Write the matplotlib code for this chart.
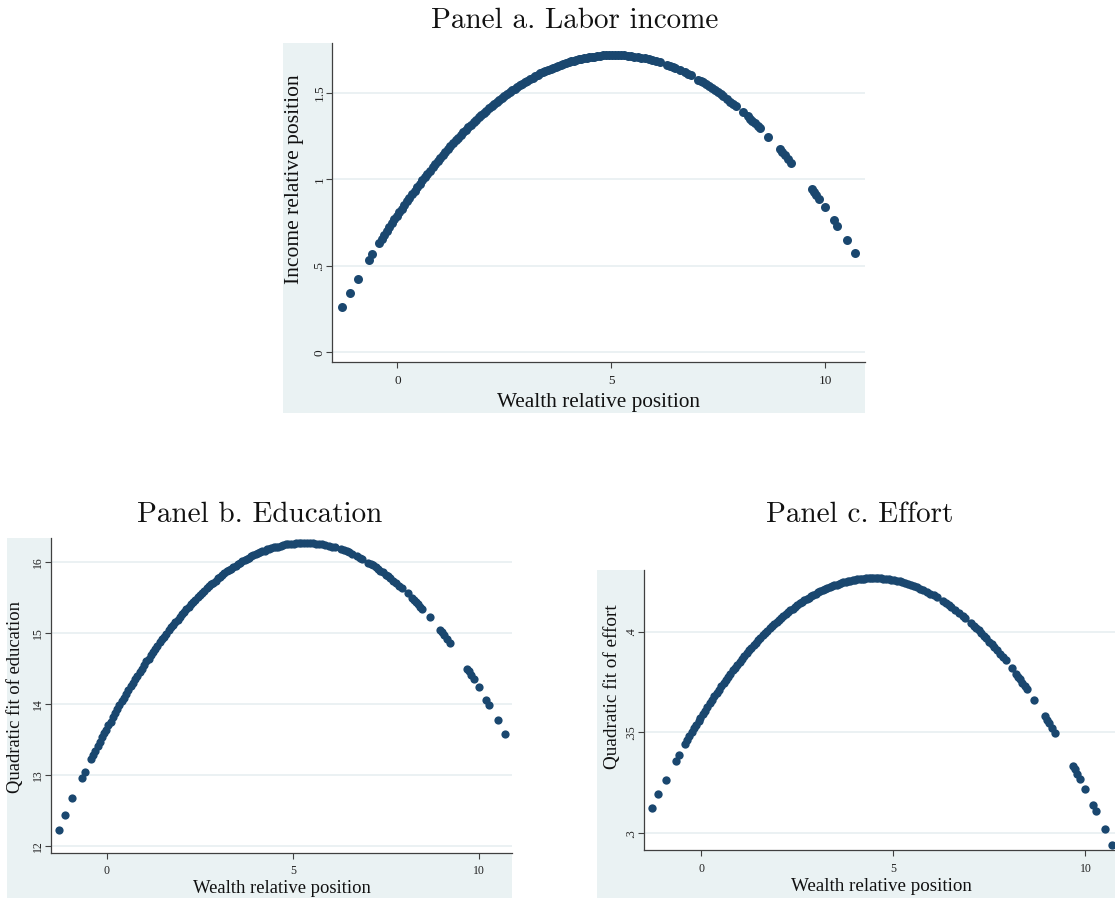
import matplotlib
matplotlib.use("Agg")
import matplotlib.pyplot as plt
from matplotlib.patches import Rectangle

# Wealth relative position of each observation
wealth = [
    -1.29, -1.12, -0.925, -0.67, -0.59,
    -0.43, -0.37, -0.31, -0.25, -0.19, -0.13, -0.07, -0.02, 0.04, 0.10,
    0.16, 0.22, 0.28, 0.34, 0.40, 0.46, 0.52, 0.58, 0.64, 0.70,
    0.76, 0.82, 0.88, 0.94, 1.00, 1.06, 1.12, 1.18, 1.24, 1.30,
    1.36, 1.42, 1.48, 1.54, 1.60, 1.66, 1.72, 1.78, 1.84, 1.90,
    1.96, 2.02, 2.08, 2.14, 2.20, 2.26, 2.32, 2.38, 2.44, 2.50,
    2.56, 2.62, 2.68, 2.74, 2.80, 2.86, 2.92, 2.98, 3.04, 3.10,
    3.16, 3.22, 3.28, 3.34, 3.40, 3.46, 3.52, 3.58, 3.64, 3.70,
    3.76, 3.82, 3.88, 3.94, 4.00, 4.06, 4.12, 4.18, 4.24, 4.30,
    4.36, 4.42, 4.48, 4.54, 4.60, 4.67, 4.74, 4.81, 4.88, 4.95,
    5.02, 5.09, 5.16, 5.23, 5.30, 5.38, 5.46, 5.54, 5.62, 5.70,
    5.78, 5.87, 5.96, 6.05, 6.14,
    6.29, 6.37, 6.44, 6.50, 6.60, 6.72, 6.80, 6.86,
    7.03, 7.09, 7.15, 7.22, 7.28, 7.35, 7.42, 7.50, 7.56, 7.62,
    7.70, 7.78, 7.85, 7.92,
    8.08, 8.19, 8.25, 8.30, 8.36, 8.42, 8.47,
    8.67,
    8.94, 9.00, 9.05, 9.13, 9.21,
    9.68, 9.73, 9.79, 9.86,
    9.99,
    10.20, 10.28,
    10.50,
    10.69,
]

# Income relative position (fitted)
income = [
    0.263, 0.340, 0.425, 0.533, 0.566,
    0.630, 0.654, 0.677, 0.700, 0.723, 0.746, 0.768, 0.786, 0.808, 0.830,
    0.851, 0.872, 0.893, 0.914, 0.934, 0.954, 0.974, 0.993, 1.013, 1.032,
    1.050, 1.069, 1.087, 1.105, 1.123, 1.140, 1.157, 1.174, 1.191, 1.207,
    1.224, 1.239, 1.255, 1.270, 1.286, 1.300, 1.315, 1.329, 1.343, 1.357,
    1.371, 1.384, 1.397, 1.410, 1.422, 1.435, 1.447, 1.458, 1.470, 1.481,
    1.492, 1.503, 1.513, 1.523, 1.533, 1.543, 1.552, 1.561, 1.570, 1.579,
    1.587, 1.595, 1.603, 1.611, 1.618, 1.625, 1.632, 1.638, 1.645, 1.651,
    1.656, 1.662, 1.667, 1.672, 1.677, 1.681, 1.685, 1.689, 1.693, 1.696,
    1.699, 1.702, 1.705, 1.707, 1.709, 1.712, 1.713, 1.715, 1.716, 1.717,
    1.717, 1.717, 1.717, 1.716, 1.715, 1.713, 1.711, 1.709, 1.706, 1.702,
    1.698, 1.693, 1.688, 1.681, 1.675,
    1.662, 1.655, 1.648, 1.642, 1.631, 1.617, 1.607, 1.600,
    1.576, 1.568, 1.559, 1.548, 1.539, 1.527, 1.515, 1.502, 1.491, 1.480,
    1.465, 1.449, 1.435, 1.421,
    1.387, 1.363, 1.349, 1.337, 1.323, 1.309, 1.296,
    1.246,
    1.173, 1.156, 1.141, 1.118, 1.094,
    0.945, 0.929, 0.908, 0.884,
    0.839,
    0.762, 0.732,
    0.647,
    0.572,
]

# Quadratic fit of education (years)
education = [
    12.23, 12.44, 12.67, 12.96, 13.04,
    13.22, 13.28, 13.34, 13.41, 13.47, 13.53, 13.59, 13.64, 13.70, 13.75,
    13.81, 13.87, 13.93, 13.98, 14.04, 14.09, 14.14, 14.20, 14.25, 14.30,
    14.35, 14.40, 14.45, 14.50, 14.55, 14.60, 14.64, 14.69, 14.74, 14.78,
    14.82, 14.87, 14.91, 14.95, 14.99, 15.04, 15.08, 15.12, 15.15, 15.19,
    15.23, 15.27, 15.30, 15.34, 15.37, 15.41, 15.44, 15.47, 15.51, 15.54,
    15.57, 15.60, 15.63, 15.66, 15.69, 15.71, 15.74, 15.77, 15.79, 15.82,
    15.84, 15.87, 15.89, 15.91, 15.93, 15.95, 15.97, 15.99, 16.01, 16.03,
    16.05, 16.06, 16.08, 16.10, 16.11, 16.13, 16.14, 16.15, 16.16, 16.18,
    16.19, 16.20, 16.21, 16.22, 16.22, 16.23, 16.24, 16.25, 16.25, 16.26,
    16.26, 16.27, 16.27, 16.27, 16.27, 16.27, 16.27, 16.27, 16.26, 16.26,
    16.25, 16.24, 16.23, 16.22, 16.21,
    16.18, 16.17, 16.15, 16.14, 16.12, 16.09, 16.06, 16.05,
    15.99, 15.98, 15.96, 15.93, 15.91, 15.88, 15.86, 15.82, 15.80, 15.77,
    15.74, 15.70, 15.67, 15.64,
    15.56, 15.50, 15.47, 15.44, 15.41, 15.37, 15.34,
    15.22,
    15.05, 15.01, 14.97, 14.92, 14.86,
    14.50, 14.46, 14.41, 14.35,
    14.24,
    14.05, 13.98,
    13.77,
    13.58,
]

# Quadratic fit of effort
effort = [
    0.3127, 0.3193, 0.3266, 0.3358, 0.3386,
    0.3441, 0.3461, 0.3481, 0.3500, 0.3520, 0.3539, 0.3558, 0.3573, 0.3591, 0.3609,
    0.3627, 0.3645, 0.3662, 0.3679, 0.3696, 0.3713, 0.3729, 0.3745, 0.3761, 0.3777,
    0.3792, 0.3808, 0.3822, 0.3837, 0.3852, 0.3866, 0.3880, 0.3893, 0.3907, 0.3920,
    0.3933, 0.3945, 0.3958, 0.3970, 0.3982, 0.3994, 0.4005, 0.4016, 0.4027, 0.4038,
    0.4049, 0.4059, 0.4069, 0.4078, 0.4088, 0.4097, 0.4106, 0.4115, 0.4123, 0.4132,
    0.4140, 0.4147, 0.4155, 0.4162, 0.4169, 0.4176, 0.4182, 0.4189, 0.4195, 0.4200,
    0.4206, 0.4211, 0.4216, 0.4221, 0.4226, 0.4230, 0.4234, 0.4238, 0.4241, 0.4245,
    0.4248, 0.4250, 0.4253, 0.4255, 0.4257, 0.4259, 0.4261, 0.4262, 0.4263, 0.4264,
    0.4265, 0.4265, 0.4265, 0.4265, 0.4264, 0.4264, 0.4263, 0.4261, 0.4259, 0.4257,
    0.4255, 0.4252, 0.4249, 0.4245, 0.4242, 0.4237, 0.4232, 0.4226, 0.4220, 0.4213,
    0.4206, 0.4198, 0.4189, 0.4180, 0.4170,
    0.4152, 0.4142, 0.4132, 0.4124, 0.4110, 0.4092, 0.4079, 0.4070,
    0.4041, 0.4030, 0.4019, 0.4006, 0.3995, 0.3981, 0.3967, 0.3951, 0.3938, 0.3926,
    0.3908, 0.3890, 0.3874, 0.3858,
    0.3819, 0.3791, 0.3776, 0.3763, 0.3747, 0.3731, 0.3717,
    0.3661,
    0.3581, 0.3562, 0.3547, 0.3522, 0.3496,
    0.3336, 0.3318, 0.3296, 0.3270,
    0.3222,
    0.3141, 0.3109,
    0.3020,
    0.2940,
]

x_ticks = [0, 5, 10]
x_tick_labels = ["0", "5", "10"]
inc_ticks, inc_labels = [0, 0.5, 1, 1.5], ["0", ".5", "1", "1.5"]
edu_ticks, edu_labels = [12, 13, 14, 15, 16], ["12", "13", "14", "15", "16"]
eff_ticks, eff_labels = [0.3, 0.35, 0.4], [".3", ".35", ".4"]

W, H = 1115, 899
BG = "#eaf2f3"
DOT = "#1a476f"
AXC = "#404040"
fig = plt.figure(figsize=(W / 100, H / 100), dpi=100)


def rect(x0, y0, x1, y1):
    return [x0 / W, 1 - y1 / H, (x1 - x0) / W, (y1 - y0) / H]


# light bluish-grey graph regions behind each panel
for (x0, y0, x1, y1) in [(283, 43, 865, 413), (7, 538, 512, 898), (597, 570, 1125, 898)]:
    fig.patches.append(Rectangle((x0 / W, 1 - y1 / H), (x1 - x0) / W, (y1 - y0) / H,
                                 transform=fig.transFigure, facecolor=BG,
                                 edgecolor="none", zorder=-1))


def ftext(px, py, s, **kw):
    fig.text(px / W, 1 - py / H, s, **kw)


def panel(box, xlim, ylim, yticks, ylabels, yvals, size, tick_fs, xpad, ypad):
    ax = fig.add_axes(rect(*box))
    ax.set_facecolor("white")
    ax.set_xlim(*xlim)
    ax.set_ylim(*ylim)
    for s in ("top", "right"):
        ax.spines[s].set_visible(False)
    for s in ("left", "bottom"):
        ax.spines[s].set_color(AXC)
        ax.spines[s].set_linewidth(0.9)
    ax.set_xticks(x_ticks)
    ax.set_xticklabels(x_tick_labels, fontfamily="Liberation Serif", fontsize=tick_fs)
    ax.set_yticks(yticks)
    ax.set_yticklabels(ylabels, rotation=90, va="center",
                       fontfamily="Liberation Serif", fontsize=tick_fs)
    ax.tick_params(axis="both", length=4, width=0.8, color=AXC, labelcolor="#222222")
    ax.tick_params(axis="x", pad=xpad)
    ax.tick_params(axis="y", pad=ypad)
    for t in yticks:
        ax.axhline(t, color="#e6eef0", lw=1.1, zorder=1)
    ax.scatter(wealth, yvals, s=size, color=DOT, linewidths=0, zorder=3)
    return ax


panel((332, 43, 865, 362), (-1.53, 10.93), (-0.056, 1.787),
      inc_ticks, inc_labels, income, 42, 9.5, 5.5, 0.8)
panel((51, 538, 512, 853), (-1.50, 10.886), (11.90, 16.34),
      edu_ticks, edu_labels, education, 35, 8.5, 5, 1.0)
panel((644, 570, 1122, 850), (-1.49, 10.95), (0.2917, 0.4306),
      eff_ticks, eff_labels, effort, 36, 8.5, 5, 0.8)

title_kw = dict(fontfamily="cmr10", fontsize=21, ha="center", va="baseline", color="#111111")
ftext(575, 28, "Panel a. Labor income", **title_kw)
ftext(259.5, 521.7, "Panel b. Education", **title_kw)
ftext(859.5, 521.7, "Panel c. Effort", **title_kw)

lab = dict(fontfamily="Liberation Serif", color="#111111")
ftext(598.5, 407, "Wealth relative position", fontsize=15.3, ha="center", va="baseline", **lab)
ftext(295, 179, "Income relative position", fontsize=15.5, rotation=90, ha="center", va="center", **lab)
ftext(281.5, 893, "Wealth relative position", fontsize=13.4, ha="center", va="baseline", **lab)
ftext(16, 697, "Quadratic fit of education", fontsize=13.4, rotation=90, ha="center", va="center", **lab)
ftext(881, 891, "Wealth relative position", fontsize=13.7, ha="center", va="baseline", **lab)
ftext(613, 686.5, "Quadratic fit of effort", fontsize=13.8, rotation=90, ha="center", va="center", **lab)

fig.savefig("out.png", dpi=100)
